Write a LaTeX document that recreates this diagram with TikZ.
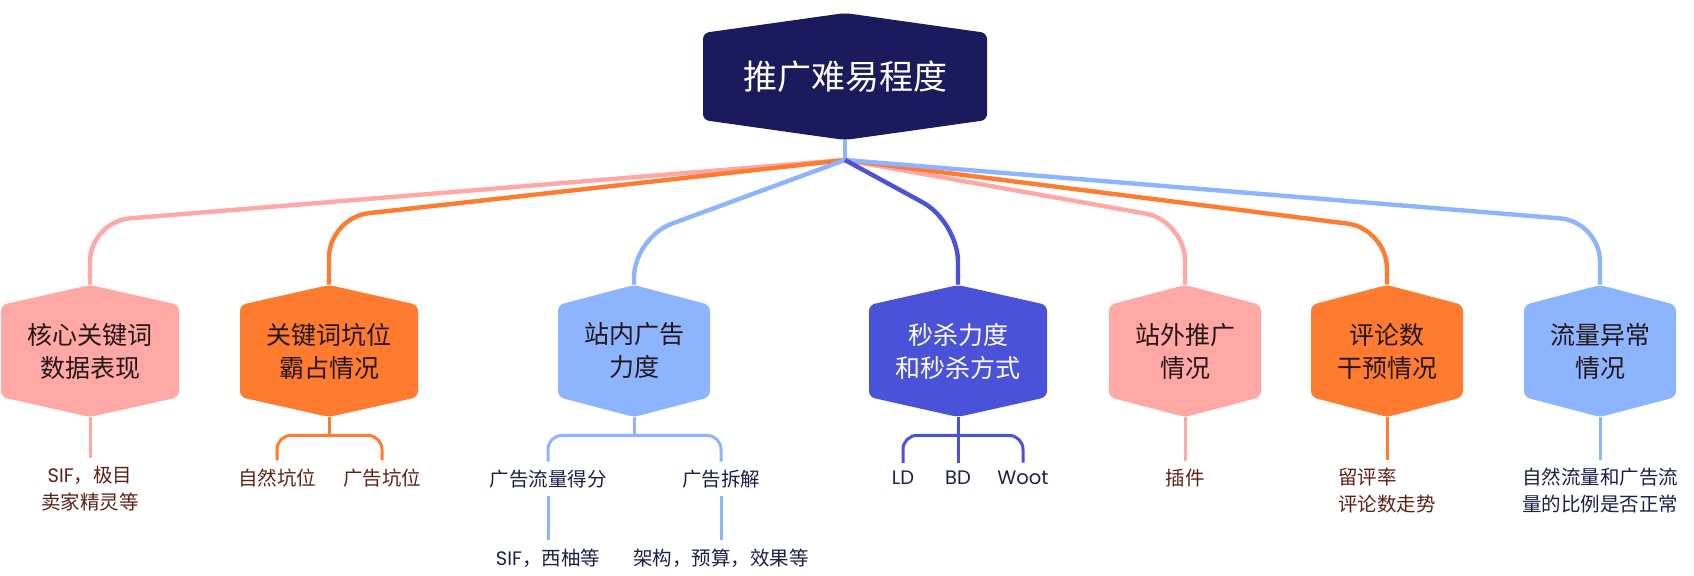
\documentclass[tikz,border=0pt]{standalone}
\usepackage{fontspec}
\setmainfont{Noto Sans CJK SC}
\newfontfamily\latinfont{Poppins}
\usetikzlibrary{positioning, calc}
\definecolor{MapNavy}{RGB}{27,26,92}
\definecolor{MapPink}{RGB}{255,168,166}
\definecolor{MapOrange}{RGB}{255,123,48}
\definecolor{MapSky}{RGB}{141,180,255}
\definecolor{MapRoyal}{RGB}{74,82,217}
\definecolor{MapInk}{RGB}{35,22,22}
\definecolor{MapBrown}{RGB}{95,32,22}
\definecolor{MapSlate}{RGB}{28,32,72}

\tikzset{
  hexbox/.style={minimum height=66pt, inner sep=0pt, align=center,
    font=\fontsize{12.5}{16.5}\selectfont,
    path picture={\fill[#1, rounded corners=3pt]
      (path picture bounding box.east)
      -- ([yshift=-10pt]path picture bounding box.north east)
      -- (path picture bounding box.north)
      -- ([yshift=-10pt]path picture bounding box.north west)
      -- ([yshift=10pt]path picture bounding box.south west)
      -- (path picture bounding box.south)
      -- ([yshift=10pt]path picture bounding box.south east) -- cycle;}},
  leaf/.style={inner sep=4pt, align=center, font=\fontsize{9.75}{13.5}\selectfont},
  branch/.style={line width=2.2pt, rounded corners=20pt},
  twig/.style={line width=1.5pt, rounded corners=7pt},
}

\begin{document}
\begin{tikzpicture}[x=0.5pt,y=-0.5pt]
  \path[use as bounding box] (0,0) rectangle (1694,575);
  \fill[white] (0,0) rectangle (1694,575);

  % root
  \node[hexbox=MapNavy, minimum width=142pt, minimum height=63.5pt, text=white,
        font=\fontsize{17}{20}\selectfont] (root) at (845,76.5) {推广难易程度};
  \coordinate (fork) at (845,160);

  % first level
  \node[hexbox=MapPink, minimum width=89pt, text=MapInk] (c1) at (90,351) {核心关键词\\数据表现};
  \node[hexbox=MapOrange, minimum width=89pt, text=MapInk] (c2) at (329,351) {关键词坑位\\霸占情况};
  \node[hexbox=MapSky, minimum width=76pt, text=MapInk] (c3) at (634,351) {站内广告\\力度};
  \node[hexbox=MapRoyal, minimum width=89pt, text=white] (c4) at (958,351) {秒杀力度\\和秒杀方式};
  \node[hexbox=MapPink, minimum width=76pt, text=MapInk] (c5) at (1185,351) {站外推广\\情况};
  \node[hexbox=MapOrange, minimum width=76pt, text=MapInk] (c6) at (1387,351) {评论数\\干预情况};
  \node[hexbox=MapSky, minimum width=76pt, text=MapInk] (c7) at (1600,351) {流量异常\\情况};

  \draw[branch, MapSky] (root.south) -- (fork);
  \foreach \n/\c/\s in {c1/MapPink/31.5, c2/MapOrange/33.5, c5/MapPink/32,
                        c6/MapOrange/28, c7/MapSky/31.5, c3/MapSky/23.5, c4/MapRoyal/31.5}{
    \draw[branch, \c] (fork) -- ([yshift=\s pt]\n.north) -- (\n.north);
  }

  % leaves
  \node[leaf, text=MapBrown] (l1) at (90,489) {{\latinfont SIF}，极目\\卖家精灵等};
  \node[leaf, text=MapBrown] (l2a) at (277,478) {自然坑位};
  \node[leaf, text=MapBrown] (l2b) at (382,478) {广告坑位};
  \node[leaf, text=MapSlate] (l3a) at (548,479) {广告流量得分};
  \node[leaf, text=MapSlate] (l3b) at (721,479) {广告拆解};
  \node[leaf, text=MapSlate] (l3c) at (548,558) {{\latinfont SIF}，西柚等};
  \node[leaf, text=MapSlate] (l3d) at (721,558) {架构，预算，效果等};
  \node[leaf, text=MapSlate, font=\latinfont\fontsize{9.75}{13.5}\selectfont] (l4a) at (903,478) {LD};
  \node[leaf, text=MapSlate, font=\latinfont\fontsize{9.75}{13.5}\selectfont] (l4b) at (958,478) {BD};
  \node[leaf, text=MapSlate, font=\latinfont\fontsize{9.75}{13.5}\selectfont] (l4c) at (1023,478) {Woot};
  \node[leaf, text=MapBrown] (l5) at (1185,478) {插件};
  \node[leaf, text=MapBrown, align=left] (l6) at (1387,491) {留评率\\评论数走势};
  \node[leaf, text=MapSlate] (l7) at (1600,491) {自然流量和广告流\\量的比例是否正常};

  \draw[twig, MapPink] (c1.south) -- (l1.north);
  \draw[twig, MapOrange] (c2.south) -- ++(0,18) coordinate (j2);
  \draw[twig, MapOrange] (j2) -| (l2a.north);
  \draw[twig, MapOrange] (j2) -| (l2b.north);
  \draw[twig, MapSky] (c3.south) -- ++(0,18) coordinate (j3);
  \draw[twig, MapSky] (j3) -| (l3a.north);
  \draw[twig, MapSky] (j3) -| (l3b.north);
  \draw[twig, MapSky] (l3a.south) -- (l3c.north);
  \draw[twig, MapSky] (l3b.south) -- (l3d.north);
  \draw[twig, MapRoyal] (c4.south) -- ++(0,18) coordinate (j4);
  \draw[twig, MapRoyal] (j4) -| (l4a.north);
  \draw[twig, MapRoyal] (j4) -- (l4b.north);
  \draw[twig, MapRoyal] (j4) -| (l4c.north);
  \draw[twig, MapPink] (c5.south) -- (l5.north);
  \draw[twig, MapOrange] (c6.south) -- (l6.north);
  \draw[twig, MapSky] (c7.south) -- (l7.north);
\end{tikzpicture}
\end{document}
